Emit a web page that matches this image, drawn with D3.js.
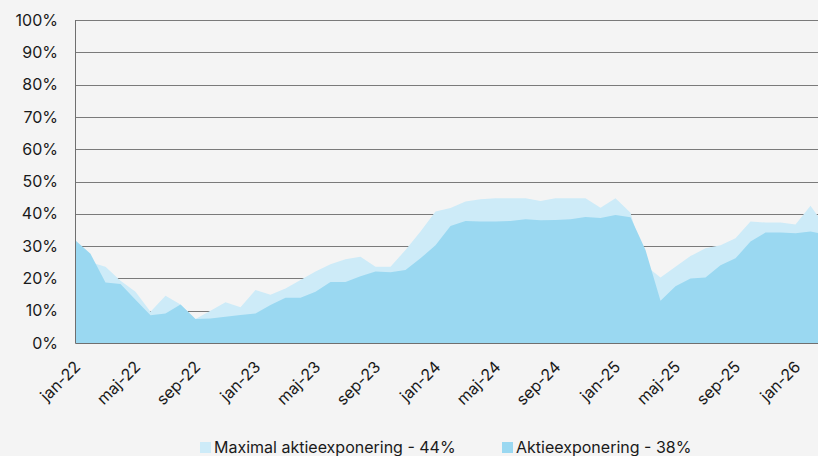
<!DOCTYPE html>
<html>
<head>
<meta charset="utf-8">
<style>
    body { margin: 0; background: #f4f4f4; }
    svg { display: block; }
    text { font-family: Inter, "Liberation Sans", sans-serif; fill: #1a1a1a; }
</style>
</head>
<body>
<svg width="818" height="456"></svg>
<script src="https://d3js.org/d3.v7.min.js"></script>
<script>
    // months from jan-22 to mar-26 (last one runs past the right edge)
    var months = ['jan-22', 'feb-22', 'mar-22', 'apr-22', 'maj-22', 'jun-22', 'jul-22', 'aug-22', 'sep-22', 'okt-22', 'nov-22', 'dec-22',
        'jan-23', 'feb-23', 'mar-23', 'apr-23', 'maj-23', 'jun-23', 'jul-23', 'aug-23', 'sep-23', 'okt-23', 'nov-23', 'dec-23',
        'jan-24', 'feb-24', 'mar-24', 'apr-24', 'maj-24', 'jun-24', 'jul-24', 'aug-24', 'sep-24', 'okt-24', 'nov-24', 'dec-24',
        'jan-25', 'feb-25', 'mar-25', 'apr-25', 'maj-25', 'jun-25', 'jul-25', 'aug-25', 'sep-25', 'okt-25', 'nov-25', 'dec-25',
        'jan-26', 'feb-26', 'mar-26'];

    var maxExposure = [31.7, 25, 23.6, 19.3, 15.9, 9.7, 14.6, 11.9, 7.4, 10.0, 12.6, 11.1,
        16.4, 14.9, 16.9, 19.5, 22.1, 24.4, 25.9, 26.7, 23.6, 23.6, 28.8, 34.5,
        40.7, 41.8, 43.8, 44.5, 44.8, 44.8, 44.8, 44.0, 44.8, 44.8, 44.8, 41.9,
        44.8, 40.3, 24, 20.3, 23.6, 26.9, 29.3, 30.3, 32.4, 37.6, 37.3, 37.3,
        36.7, 42.5, 36];

    var exposure = [31.7, 27.6, 18.7, 18.3, 13.4, 8.6, 9.1, 11.9, 7.4, 7.6, 8.1, 8.7,
        9.1, 11.8, 14.0, 14.0, 15.9, 18.9, 18.9, 20.7, 22.1, 21.9, 22.6, 26.2,
        30.3, 36.2, 37.8, 37.6, 37.6, 37.8, 38.3, 38.0, 38.1, 38.3, 39.0, 38.7,
        39.6, 38.9, 28.8, 13.1, 17.6, 20.0, 20.3, 24.1, 26.2, 31.4, 34.2, 34.2,
        34.0, 34.5, 33.6];

    var yTicks = [0, 10, 20, 30, 40, 50, 60, 70, 80, 90, 100];
    var legendLabels = ['Maximal aktieexponering - 44%', 'Aktieexponering - 38%'];

    var svg = d3.select('svg'),
        margin = { top: 20, left: 75.5, bottom: 113 },
        height = +svg.attr('height') - margin.top - margin.bottom;

    var x = d3.scaleLinear()
        .domain([0, months.length - 1])
        .range([margin.left, margin.left + 15 * (months.length - 1)]);

    var y = d3.scaleLinear()
        .domain([0, 100])
        .range([margin.top + height, margin.top]);

    // gridlines (behind the areas)
    svg.append('g')
        .selectAll('line')
        .data(yTicks)
        .enter().append('line')
        .attr('x1', margin.left)
        .attr('x2', 818)
        .attr('y1', function (d) { return Math.round(y(d)) + 0.5; })
        .attr('y2', function (d) { return Math.round(y(d)) + 0.5; })
        .attr('stroke', '#7a7a7a')
        .attr('stroke-width', 1);

    var area = function (vals) {
        return d3.area()
            .x(function (d, i) { return x(i); })
            .y0(y(0))
            .y1(function (d) { return y(d); })(vals);
    };

    svg.append('path')
        .attr('d', area(maxExposure))
        .attr('fill', '#cdebf8');

    svg.append('path')
        .attr('d', area(exposure))
        .attr('fill', '#9ad8f1');

    // axis lines
    svg.append('line')
        .attr('x1', margin.left).attr('x2', margin.left)
        .attr('y1', y(100)).attr('y2', y(0))
        .attr('stroke', '#6f6f6f');
    svg.append('line')
        .attr('x1', margin.left).attr('x2', 818)
        .attr('y1', Math.round(y(0)) + 0.5).attr('y2', Math.round(y(0)) + 0.5)
        .attr('stroke', '#6f6f6f');

    // y labels
    svg.append('g')
        .selectAll('text')
        .data(yTicks)
        .enter().append('text')
        .attr('x', 58)
        .attr('y', function (d) { return y(d); })
        .attr('dy', '0.35em')
        .attr('text-anchor', 'end')
        .attr('font-size', 16)
        .text(function (d) { return d + '%'; });

    // x labels, every 4th month
    var tickIdx = d3.range(0, months.length, 4);
    svg.append('g')
        .selectAll('text')
        .data(tickIdx)
        .enter().append('text')
        .attr('transform', function (i) { return 'translate(' + (x(i) + 2) + ',' + (y(0) + 21) + ') rotate(-45)'; })
        .attr('text-anchor', 'end')
        .attr('dy', '0.35em')
        .attr('font-size', 16)
        .text(function (i) { return months[i]; });

    // legend
    var legendColors = ['#cdebf8', '#9ad8f1'];
    var legendX = [200, 502];
    var legend = svg.append('g')
        .selectAll('g')
        .data(legendLabels)
        .enter().append('g')
        .attr('transform', function (d, i) { return 'translate(' + legendX[i] + ',442)'; });
    legend.append('rect')
        .attr('width', 11).attr('height', 11)
        .attr('fill', function (d, i) { return legendColors[i]; });
    legend.append('text')
        .attr('x', 14)
        .attr('y', 11)
        .attr('font-size', 16)
        .text(function (d) { return d; });
</script>
</body>
</html>
